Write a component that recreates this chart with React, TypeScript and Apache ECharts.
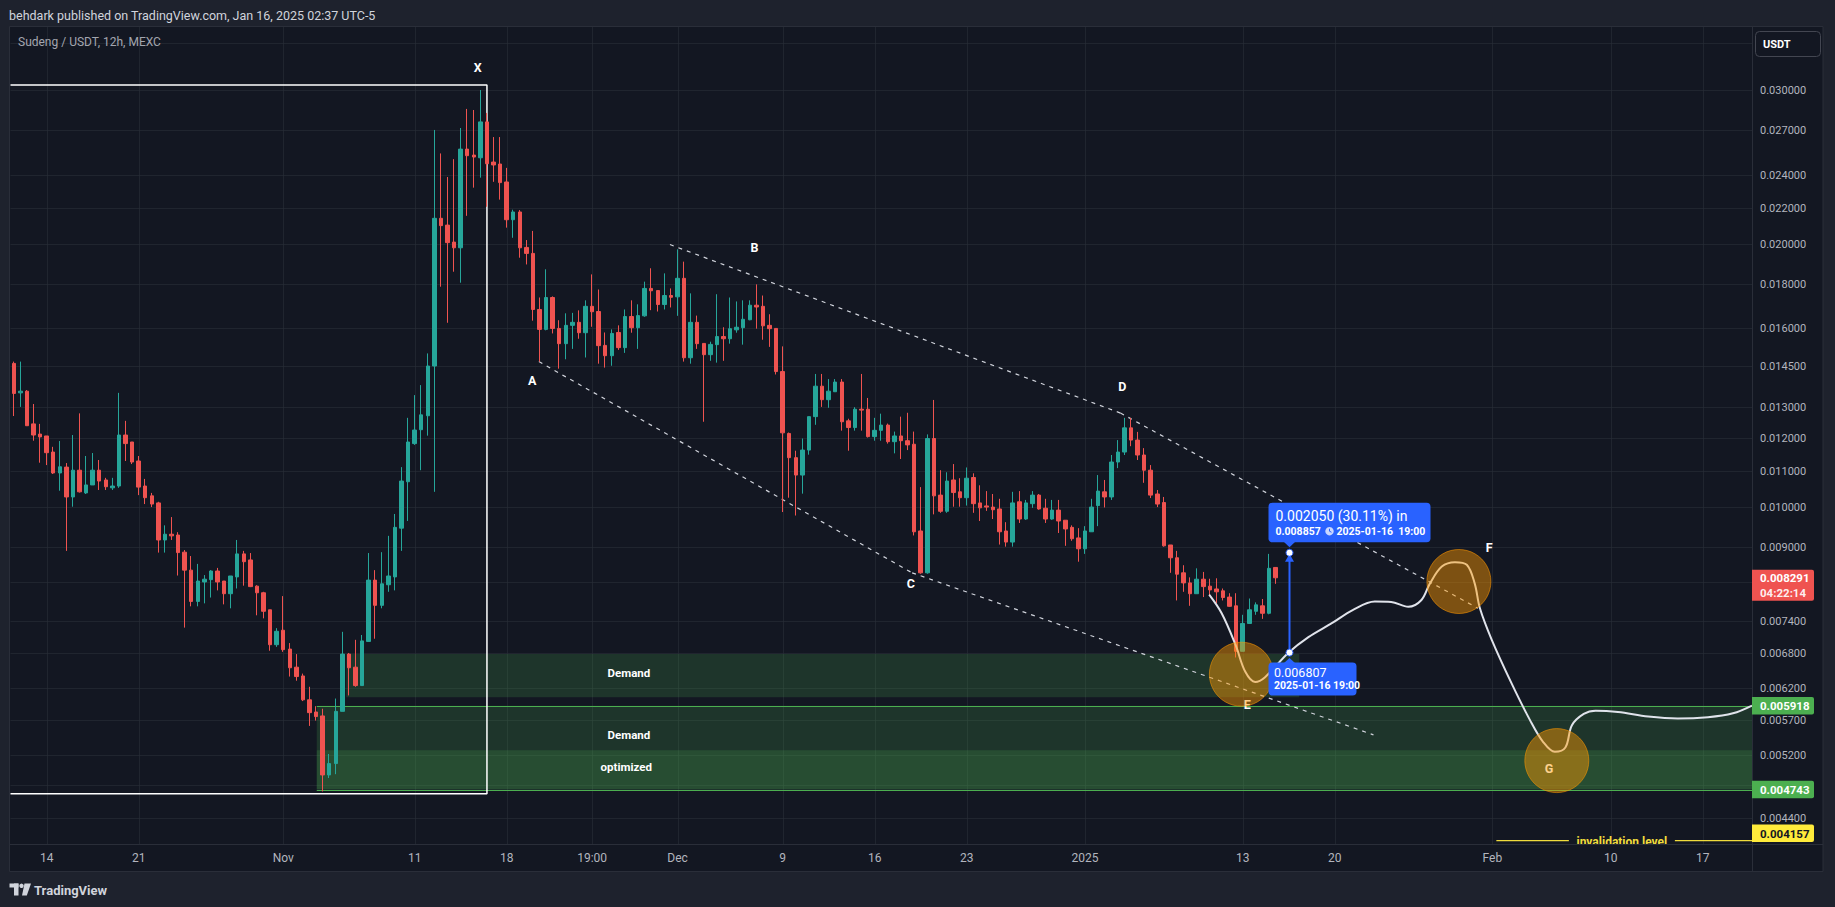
import React, { useEffect, useRef } from "react";
import * as echarts from "echarts";

const FONT = "Roboto, 'Liberation Sans', sans-serif";
const GRIDC = "rgba(42,46,57,0.6)";
const UP = "#26a69a";
const DOWN = "#ef5350";
const BLUE = "#2962ff";

// ---------- axes ----------
const slotCount = 265; // 12h slots on the time axis (candles + future space)
const xLabelIndex = [5, 19, 41, 61, 75, 88, 101, 117, 131, 145, 163, 187, 201, 225, 243, 257];
const xLabelText = ["14", "21", "Nov", "11", "18", "19:00", "Dec", "9", "16", "23", "2025", "13", "20", "Feb", "10", "17"];
const yTicks = [0.034, 0.03, 0.027, 0.024, 0.022, 0.02, 0.018, 0.016, 0.0145, 0.013, 0.012, 0.011, 0.01, 0.009, 0.0082, 0.0074, 0.0068, 0.0062, 0.0057, 0.0052, 0.0048, 0.0044];
// tick labels covered by the USDT button / price tags in the reference
const yTicksHiddenLabel = [0.034, 0.0082, 0.0048];
const yMin = 0.0041094;
const yMax = 0.035421;

// ---------- candles: [open, close, low, high] ----------
const candles = [
  [0.01459, 0.01348, 0.0127, 0.01466], [0.0135, 0.01356, 0.01301, 0.01466], [0.01356, 0.01238, 0.01237, 0.0136], [0.01244, 0.01208, 0.0119, 0.01311],
  [0.01211, 0.01202, 0.01123, 0.01244], [0.01205, 0.01153, 0.01116, 0.01205], [0.01155, 0.01093, 0.0109, 0.01171], [0.01093, 0.01111, 0.01043, 0.01189],
  [0.0111, 0.01026, 0.0089, 0.01122], [0.01026, 0.01101, 0.01, 0.01208], [0.01101, 0.0104, 0.01038, 0.01279], [0.01037, 0.01059, 0.01034, 0.01143],
  [0.01059, 0.01101, 0.01059, 0.01152], [0.01101, 0.0107, 0.01045, 0.01131], [0.01073, 0.01054, 0.01045, 0.01079], [0.01051, 0.01056, 0.01045, 0.01079],
  [0.01056, 0.01208, 0.01051, 0.0135], [0.01208, 0.01181, 0.01128, 0.01254], [0.01186, 0.01125, 0.01119, 0.01186], [0.01128, 0.01053, 0.01031, 0.01143],
  [0.01056, 0.01024, 0.01007, 0.01076], [0.01029, 0.01007, 0.00999, 0.01037], [0.0101, 0.00916, 0.00886, 0.01013], [0.00916, 0.0093, 0.00886, 0.00952],
  [0.0093, 0.00926, 0.00916, 0.00973], [0.00928, 0.00886, 0.00834, 0.00935], [0.00887, 0.00846, 0.00727, 0.00892], [0.00846, 0.00779, 0.00769, 0.00878],
  [0.00779, 0.00822, 0.00769, 0.0086], [0.0082, 0.00826, 0.00775, 0.00835], [0.00825, 0.00844, 0.00787, 0.00846], [0.00844, 0.0082, 0.00802, 0.00851],
  [0.00822, 0.00795, 0.00773, 0.00822], [0.00795, 0.00833, 0.00765, 0.00833], [0.00831, 0.00883, 0.00806, 0.00916], [0.00883, 0.00865, 0.00812, 0.0089],
  [0.00869, 0.0081, 0.00809, 0.00885], [0.00811, 0.00797, 0.00751, 0.00813], [0.00797, 0.00759, 0.00745, 0.00799], [0.00762, 0.00695, 0.00684, 0.00762],
  [0.00695, 0.0072, 0.00691, 0.00726], [0.00722, 0.00686, 0.00682, 0.0079], [0.00687, 0.00654, 0.00639, 0.00698], [0.00655, 0.00639, 0.00632, 0.00678],
  [0.0064, 0.00601, 0.00599, 0.00644], [0.00601, 0.00581, 0.00561, 0.00622], [0.00582, 0.00575, 0.00569, 0.00591], [0.00576, 0.00493, 0.00472, 0.00587],
  [0.00493, 0.00508, 0.00489, 0.00521], [0.00508, 0.00583, 0.00494, 0.00603], [0.00583, 0.00678, 0.00583, 0.00719], [0.00678, 0.00654, 0.00608, 0.0068],
  [0.00655, 0.00624, 0.00622, 0.00704], [0.00624, 0.00702, 0.00624, 0.00713], [0.00701, 0.00824, 0.00701, 0.00885], [0.00824, 0.00771, 0.00706, 0.00846],
  [0.00771, 0.00816, 0.00765, 0.00887], [0.00814, 0.00833, 0.00799, 0.00926], [0.00831, 0.00947, 0.00802, 0.00981], [0.00945, 0.0107, 0.0089, 0.0111],
  [0.01068, 0.01186, 0.00963, 0.01264], [0.01181, 0.01224, 0.01177, 0.01342], [0.01225, 0.01274, 0.01101, 0.01378], [0.01271, 0.01449, 0.01206, 0.01498],
  [0.01449, 0.02139, 0.0104, 0.027], [0.02139, 0.02098, 0.01786, 0.02538], [0.02101, 0.02006, 0.01624, 0.02385], [0.02009, 0.01979, 0.01858, 0.025],
  [0.01979, 0.02567, 0.01805, 0.02714], [0.02567, 0.02523, 0.02153, 0.02854], [0.02527, 0.02514, 0.02319, 0.02846], [0.02509, 0.02758, 0.02381, 0.03],
  [0.02758, 0.0247, 0.02205, 0.02824], [0.02481, 0.02462, 0.02355, 0.0265], [0.02468, 0.0235, 0.02247, 0.0265], [0.02354, 0.02131, 0.02087, 0.02443],
  [0.02131, 0.02175, 0.02032, 0.02188], [0.02175, 0.01979, 0.01928, 0.02186], [0.01981, 0.0195, 0.01894, 0.0202], [0.0195, 0.01682, 0.01633, 0.02069],
  [0.01682, 0.01596, 0.01466, 0.01736], [0.01596, 0.01736, 0.01592, 0.0187], [0.01736, 0.016, 0.01579, 0.01741], [0.016, 0.01537, 0.01439, 0.01635],
  [0.01537, 0.01613, 0.01475, 0.01665], [0.01613, 0.01626, 0.01516, 0.01667], [0.01626, 0.01582, 0.01557, 0.01678], [0.01582, 0.01696, 0.01482, 0.01723],
  [0.01696, 0.01672, 0.01607, 0.01845], [0.01673, 0.01529, 0.01458, 0.01773], [0.0153, 0.01489, 0.01443, 0.01583], [0.01489, 0.01579, 0.0145, 0.01596],
  [0.01583, 0.01521, 0.01512, 0.01613], [0.01521, 0.01651, 0.015, 0.01682], [0.01651, 0.01603, 0.01582, 0.01723], [0.01603, 0.01655, 0.01516, 0.01705],
  [0.01654, 0.01778, 0.0165, 0.0181], [0.01778, 0.01767, 0.01679, 0.01875], [0.01768, 0.01704, 0.01673, 0.01768], [0.01704, 0.01745, 0.01682, 0.0185],
  [0.01745, 0.01737, 0.01691, 0.01778], [0.01739, 0.01826, 0.01654, 0.01971], [0.01826, 0.01481, 0.01466, 0.01908], [0.01481, 0.01626, 0.01458, 0.01755],
  [0.01626, 0.01537, 0.01516, 0.01655], [0.01538, 0.01493, 0.01251, 0.01538], [0.01493, 0.01534, 0.01469, 0.01545], [0.01533, 0.01566, 0.01462, 0.01751],
  [0.01566, 0.01557, 0.01469, 0.01605], [0.01557, 0.01599, 0.01537, 0.01736], [0.01594, 0.01605, 0.01582, 0.01718], [0.01603, 0.01639, 0.01533, 0.01723],
  [0.01637, 0.01701, 0.01635, 0.01723], [0.01701, 0.01693, 0.01599, 0.01797], [0.01696, 0.01611, 0.01553, 0.01745], [0.01613, 0.01599, 0.01524, 0.01661],
  [0.016, 0.01428, 0.01417, 0.016], [0.01428, 0.01215, 0.00986, 0.01526], [0.01213, 0.01138, 0.01024, 0.01216], [0.01138, 0.01087, 0.00977, 0.01159],
  [0.01087, 0.01161, 0.01035, 0.01197], [0.01161, 0.01268, 0.01147, 0.01268], [0.01268, 0.01374, 0.01241, 0.01419], [0.01374, 0.01326, 0.01301, 0.01419],
  [0.01326, 0.01356, 0.01298, 0.014], [0.01354, 0.01389, 0.01353, 0.014], [0.01389, 0.01251, 0.01222, 0.014], [0.01254, 0.01232, 0.01159, 0.01261],
  [0.01232, 0.01293, 0.01222, 0.013], [0.01293, 0.0129, 0.01222, 0.01419], [0.01293, 0.01203, 0.012, 0.01332], [0.01203, 0.01223, 0.0119, 0.01264],
  [0.01223, 0.0124, 0.0119, 0.01278], [0.0124, 0.01187, 0.01181, 0.01245], [0.01187, 0.01205, 0.01151, 0.01219], [0.01205, 0.0119, 0.01134, 0.01268],
  [0.0119, 0.01177, 0.01161, 0.01281], [0.01179, 0.00936, 0.00927, 0.01219], [0.00938, 0.0084, 0.00838, 0.01053], [0.0084, 0.01197, 0.00838, 0.0121],
  [0.01197, 0.01029, 0.0098, 0.01325], [0.01031, 0.00988, 0.00984, 0.01101], [0.00988, 0.0107, 0.00984, 0.01095], [0.01073, 0.01038, 0.01, 0.01119],
  [0.0104, 0.01024, 0.01, 0.01078], [0.01024, 0.01078, 0.01003, 0.01109], [0.0108, 0.01008, 0.00984, 0.01092], [0.0101, 0.00997, 0.00963, 0.01058],
  [0.01002, 0.00999, 0.00989, 0.01042], [0.00999, 0.00992, 0.00968, 0.01034], [0.00994, 0.00936, 0.00905, 0.01021], [0.00938, 0.00911, 0.009, 0.0096],
  [0.00911, 0.0101, 0.009, 0.0104], [0.01013, 0.00968, 0.00958, 0.01042], [0.00968, 0.0101, 0.00966, 0.01018], [0.01008, 0.01031, 0.00997, 0.01042],
  [0.01031, 0.00994, 0.00992, 0.01034], [0.00996, 0.00968, 0.00958, 0.01021], [0.00968, 0.00991, 0.00966, 0.01018], [0.00991, 0.00963, 0.00933, 0.01018],
  [0.00965, 0.00943, 0.00902, 0.00965], [0.00947, 0.00919, 0.00914, 0.00952], [0.00921, 0.00895, 0.00865, 0.00945], [0.00895, 0.00938, 0.00883, 0.0095],
  [0.00936, 0.00999, 0.00936, 0.01021], [0.01003, 0.01042, 0.0095, 0.01087], [0.0104, 0.01026, 0.00998, 0.01073], [0.01026, 0.01125, 0.01018, 0.01146],
  [0.01125, 0.01155, 0.01107, 0.01192], [0.01155, 0.01231, 0.01146, 0.01264], [0.01231, 0.01192, 0.01173, 0.01264], [0.01192, 0.01146, 0.01131, 0.01218],
  [0.01146, 0.01101, 0.01065, 0.01167], [0.01101, 0.01031, 0.01023, 0.01116], [0.01034, 0.01007, 0.00999, 0.01045], [0.01011, 0.00902, 0.009, 0.01026],
  [0.00904, 0.00874, 0.0084, 0.00904], [0.00874, 0.00837, 0.00781, 0.0089], [0.0084, 0.00818, 0.00799, 0.00857], [0.00818, 0.00795, 0.0077, 0.0083],
  [0.00795, 0.00826, 0.00795, 0.0085], [0.00826, 0.0081, 0.00788, 0.00842], [0.00811, 0.00803, 0.00791, 0.00827], [0.00805, 0.00799, 0.00775, 0.00828],
  [0.00801, 0.00787, 0.00781, 0.00806], [0.00788, 0.00769, 0.00768, 0.00796], [0.0077, 0.00683, 0.00672, 0.00796], [0.00683, 0.00735, 0.00683, 0.00752],
  [0.00735, 0.00762, 0.00735, 0.00785], [0.00759, 0.00772, 0.00752, 0.00777], [0.0077, 0.00755, 0.00744, 0.00784], [0.00755, 0.0085, 0.00753, 0.00883],
  [0.00852, 0.008291, 0.00816, 0.00852],
];

// ---------- drawings ----------
const xRectX = [-0.5, 72, 72, -0.5];
const xRectY = [0.0304, 0.0304, 0.00469, 0.00469];

const dashX1 = [99.85, 168.4, 79.9, 136.7];
const dashY1 = [0.01996, 0.0128, 0.01466, 0.0084];
const dashX2 = [168.4, 222.8, 136.7, 206.9];
const dashY2 = [0.0128, 0.00765, 0.0084, 0.00548];

const curveX = [181.9, 183.8, 185.9, 187.4, 188.9, 190.4, 194, 197, 200.5, 203.8, 207.1, 209.6, 212.2, 214.2, 215.5, 217.3, 219.3, 221.1, 222.3, 223.1, 224.9, 227.9, 230.7, 232.7, 234.5, 236.1, 237.1, 238.9, 240.7, 244.1, 248.7, 253.2, 257.8, 261.6, 264.5];
const curveY = [0.00793, 0.00755, 0.00695, 0.00647, 0.0063, 0.00638, 0.006807, 0.00709, 0.00735, 0.00762, 0.00779, 0.00778, 0.00768, 0.00782, 0.00817, 0.00854, 0.00864, 0.00858, 0.00817, 0.00765, 0.00704, 0.00628, 0.0057, 0.00538, 0.00524, 0.0053, 0.00562, 0.00579, 0.00584, 0.00582, 0.00575, 0.00572, 0.00574, 0.0058, 0.00592];

const zoneX0 = [50.6, 46.1, 46.1];
const zoneX1 = [195.6, 264.5, 264.5];
const zoneTop = [0.00678, 0.005918, 0.00526];
const zoneBottom = [0.00605, 0.004743, 0.004743];
const zoneLabelText = ["Demand", "Demand", "optimized"];
const zoneLabelX = [93.6, 93.6, 93.2];
const zoneLabelY = [0.00645, 0.00548, 0.00503];
const levelLineStart = 46.1;
const levelLines = [0.005918, 0.004743];

const waveText = ["X", "A", "B", "C", "D", "E", "F", "G"];
const waveX = [70.6, 78.9, 112.7, 136.5, 168.7, 187.7, 224.5, 233.6];
const waveY = [0.03186, 0.01396, 0.01978, 0.00816, 0.01374, 0.00594, 0.00897, 0.00501];

const circleX = [186.8, 219.9, 234.8];
const circleY = [0.00643, 0.00821, 0.00512];

const measureX = 194;
const measureFrom = 0.006807;
const measureTo = 0.008857;
const measureChange = "0.002050 (30.11%) in";
const measureDateTop = "2025-01-16  19:00";
const measureDateBottom = "2025-01-16 19:00";

const invalidationLevel = 0.004157;
const invalidationStart = 225.6;
const invalidationTextAt = 244.7;
const invalidationText = "invalidation level";

const tagValues = [0.008291, 0.005918, 0.004743, 0.004157];
const tagSub = ["04:22:14", "", "", ""];
const tagColors = ["#ef5350", "#4caf50", "#4caf50", "#ffeb3b"];
const tagTextColors = ["#ffffff", "#ffffff", "#ffffff", "#131722"];

const categories = Array.from({ length: slotCount }, (_, i) => String(i));

function txt(text: string, x: number, y: number, size: number, fill: string, weight = "normal", align = "left") {
  return {
    type: "text",
    style: { text, x, y, fill, fontSize: size, fontFamily: FONT, fontWeight: weight, align, verticalAlign: "middle" },
  };
}

function buildOption() {
  const ov = { xAxisIndex: 1, yAxisIndex: 0 };
  const series: any[] = [];

  // horizontal grid + price labels
  series.push({
    type: "custom", ...ov, z: 1, silent: true,
    data: yTicks.map((v) => [0, v]),
    renderItem: (params: any, api: any) => {
      const cs = params.coordSys;
      const v = yTicks[params.dataIndex];
      const y = Math.round(api.coord([0, v])[1]) + 0.5;
      const children: any[] = [
        { type: "line", shape: { x1: cs.x, y1: y, x2: cs.x + cs.width, y2: y }, style: { stroke: GRIDC, lineWidth: 1 } },
      ];
      if (!yTicksHiddenLabel.includes(v)) children.push(txt(v.toFixed(6), cs.x + cs.width + 8, y, 11, "#b2b5be"));
      return { type: "group", children };
    },
  });
  // vertical grid
  series.push({
    type: "custom", ...ov, z: 1, silent: true,
    data: xLabelIndex.map((i) => [i, 0.01]),
    renderItem: (params: any, api: any) => {
      const cs = params.coordSys;
      const x = Math.round(api.coord([api.value(0), 0.01])[0]) + 0.5;
      return { type: "line", shape: { x1: x, y1: cs.y, x2: x, y2: cs.y + cs.height }, style: { stroke: GRIDC, lineWidth: 1 } };
    },
  });
  // zones
  series.push({
    type: "custom", ...ov, z: 2, silent: true, clip: true,
    data: zoneX0.map((x, i) => [x, zoneTop[i]]),
    renderItem: (params: any, api: any) => {
      const i = params.dataIndex;
      const p0 = api.coord([zoneX0[i], zoneTop[i]]);
      const p1 = api.coord([zoneX1[i], zoneBottom[i]]);
      return { type: "rect", shape: { x: p0[0], y: p0[1], width: p1[0] - p0[0], height: p1[1] - p0[1] }, style: { fill: "rgba(76,175,80,0.2)" } };
    },
  });
  // zone border lines
  series.push({
    type: "custom", ...ov, z: 3, silent: true,
    data: levelLines.map((v) => [levelLineStart, v]),
    renderItem: (params: any, api: any) => {
      const cs = params.coordSys;
      const p = api.coord([levelLineStart, api.value(1)]);
      const y = Math.round(p[1]) + 0.5;
      return { type: "line", shape: { x1: p[0], y1: y, x2: cs.x + cs.width, y2: y }, style: { stroke: "#4caf50", lineWidth: 1.2 } };
    },
  });
  // zone texts
  series.push({
    type: "custom", ...ov, z: 4, silent: true,
    data: zoneLabelX.map((x, i) => [x, zoneLabelY[i]]),
    renderItem: (params: any, api: any) => {
      const i = params.dataIndex;
      const p = api.coord([zoneLabelX[i], zoneLabelY[i]]);
      return txt(zoneLabelText[i], p[0], p[1], 11.5, "#ffffff", "bold", "center");
    },
  });
  // X box
  series.push({
    type: "line", ...ov, z: 3, silent: true, symbol: "none",
    data: xRectX.map((x, i) => [x, xRectY[i]]),
    lineStyle: { color: "#ffffff", width: 1.5 },
  });
  // dashed channel lines
  dashX1.forEach((x, i) => {
    series.push({
      type: "line", ...ov, z: 3, silent: true, symbol: "none",
      data: [[x, dashY1[i]], [dashX2[i], dashY2[i]]],
      lineStyle: { color: "#d1d4dc", width: 1.2, type: [4, 5] },
    });
  });
  // candles
  series.push({
    type: "candlestick", xAxisIndex: 0, yAxisIndex: 0, z: 5, barWidth: 4,
    data: candles,
    itemStyle: { color: UP, color0: DOWN, borderColor: UP, borderColor0: DOWN, borderWidth: 1 },
  });
  // projected path
  series.push({
    type: "line", ...ov, z: 6, silent: true, symbol: "none", smooth: 0.35,
    data: curveX.map((x, i) => [x, curveY[i]]),
    lineStyle: { color: "#e0e3eb", width: 2 },
  });
  // wave labels
  series.push({
    type: "custom", ...ov, z: 7, silent: true,
    data: waveX.map((x, i) => [x, waveY[i]]),
    renderItem: (params: any, api: any) => {
      const i = params.dataIndex;
      const p = api.coord([waveX[i], waveY[i]]);
      return txt(waveText[i], p[0], p[1], 12.5, "#ffffff", "bold", "center");
    },
  });
  // circles
  series.push({
    type: "custom", ...ov, z: 8, silent: true,
    data: circleX.map((x, i) => [x, circleY[i]]),
    renderItem: (params: any, api: any) => {
      const i = params.dataIndex;
      const p = api.coord([circleX[i], circleY[i]]);
      return { type: "circle", shape: { cx: p[0], cy: p[1], r: 32 }, style: { fill: "rgba(255,152,0,0.45)", stroke: "rgba(255,152,0,0.55)", lineWidth: 1 } };
    },
  });
  // invalidation level
  series.push({
    type: "custom", ...ov, z: 8, silent: true, clip: true,
    data: [[invalidationStart, invalidationLevel]],
    renderItem: (params: any, api: any) => {
      const cs = params.coordSys;
      const p = api.coord([invalidationStart, invalidationLevel]);
      const c = api.coord([invalidationTextAt, invalidationLevel])[0];
      const y = p[1] + 1;
      const col = "#f0dc3c";
      return {
        type: "group",
        children: [
          { type: "line", shape: { x1: p[0], y1: y, x2: c - 53, y2: y }, style: { stroke: col, lineWidth: 1.2 } },
          { type: "line", shape: { x1: c + 53, y1: y, x2: cs.x + cs.width, y2: y }, style: { stroke: col, lineWidth: 1.2 } },
          txt(invalidationText, c, y + 1.5, 12, col, "bold", "center"),
        ],
      };
    },
  });
  // measurement tool
  series.push({
    type: "custom", ...ov, z: 9, silent: true,
    data: [[measureX, measureTo]],
    renderItem: (params: any, api: any) => {
      const t = api.coord([measureX, measureTo]);
      const b = api.coord([measureX, measureFrom]);
      const tx = Math.round(t[0]) + 0.5;
      const ty = t[1];
      const by = b[1];
      return {
        type: "group",
        children: [
          { type: "line", shape: { x1: tx, y1: ty + 6, x2: tx, y2: by }, style: { stroke: BLUE, lineWidth: 2 } },
          { type: "polygon", shape: { points: [[tx, ty + 1], [tx - 4.5, ty + 9], [tx + 4.5, ty + 9]] }, style: { fill: BLUE } },
          { type: "circle", shape: { cx: tx, cy: ty, r: 3.5 }, style: { fill: "#ffffff", stroke: BLUE, lineWidth: 1 } },
          { type: "circle", shape: { cx: tx, cy: by, r: 3.5 }, style: { fill: "#ffffff", stroke: BLUE, lineWidth: 1 } },
          { type: "rect", shape: { x: tx - 21, y: ty - 50, width: 162, height: 39.5, r: 4 }, style: { fill: BLUE } },
          { type: "polygon", shape: { points: [[tx - 5.5, ty - 10.8], [tx + 5.5, ty - 10.8], [tx, ty - 5.5]] }, style: { fill: BLUE } },
          txt(measureChange, tx - 14, ty - 37, 14, "#ffffff"),
          txt(measureTo.toFixed(6), tx - 14, ty - 21.5, 10.5, "#ffffff", "bold"),
          { type: "circle", shape: { cx: tx + 40, cy: ty - 21.5, r: 4.2 }, style: { fill: "rgba(255,255,255,0.75)" } },
          { type: "polyline", shape: { points: [[tx + 40, ty - 24], [tx + 40, ty - 21.5], [tx + 42, ty - 20.5]] }, style: { stroke: BLUE, lineWidth: 1, fill: "none" } },
          txt(measureDateTop, tx + 47, ty - 21.5, 10.5, "#ffffff", "bold"),
          { type: "rect", shape: { x: tx - 21, y: by + 10, width: 88, height: 33, r: 4 }, style: { fill: BLUE } },
          { type: "polygon", shape: { points: [[tx - 5.5, by + 10.5], [tx + 5.5, by + 10.5], [tx, by + 5.5]] }, style: { fill: BLUE } },
          txt(measureFrom.toFixed(6), tx - 15.5, by + 20, 12.5, "#ffffff"),
          txt(measureDateBottom, tx - 15.5, by + 33, 10.5, "#ffffff", "bold"),
        ],
      };
    },
  });
  // price tags on the price scale
  series.push({
    type: "custom", ...ov, z: 12, silent: true,
    data: tagValues.map((v) => [0, v]),
    renderItem: (params: any, api: any) => {
      const cs = params.coordSys;
      const i = params.dataIndex;
      let y = api.coord([0, tagValues[i]])[1];
      const two = tagSub[i] !== "";
      const h = two ? 31 : 17.5;
      let top = y - (two ? 8 : 8.75);
      const bottomLimit = cs.y + cs.height - 2;
      if (top + h > bottomLimit) {
        top = bottomLimit - h;
        y = top + 8.75;
      }
      const x0 = cs.x + cs.width;
      const children: any[] = [
        { type: "rect", shape: { x: x0, y: top, width: 62, height: h, r: [0, 2, 2, 0] }, style: { fill: tagColors[i] } },
        txt(tagValues[i].toFixed(6), x0 + 8, y + 0.5, 11.5, tagTextColors[i], "bold"),
      ];
      if (two) children.push(txt(tagSub[i], x0 + 8, y + 15, 11.5, "rgba(255,255,255,0.92)", "bold"));
      return { type: "group", children };
    },
  });

  const graphic: any[] = [
    { type: "rect", z: 0, silent: true, shape: { x: 9.5, y: 26.5, width: 1813.5, height: 845 }, style: { fill: "#131722", stroke: "#2a2e39", lineWidth: 1 } },
    { type: "text", z: 1, x: 9, y: 15, style: { text: "behdark published on TradingView.com, Jan 16, 2025 02:37 UTC-5", fill: "#d1d4dc", fontSize: 12.5, fontFamily: FONT, verticalAlign: "middle" } },
    { type: "text", z: 20, x: 18, y: 42, style: { text: "Sudeng / USDT, 12h, MEXC", fill: "#a3a6af", fontSize: 12, fontFamily: FONT, verticalAlign: "middle" } },
    { type: "line", z: 11, silent: true, shape: { x1: 1752.5, y1: 26.5, x2: 1752.5, y2: 871 }, style: { stroke: "#2a2e39", lineWidth: 1 } },
    { type: "line", z: 11, silent: true, shape: { x1: 9.5, y1: 844.5, x2: 1823, y2: 844.5 }, style: { stroke: "#2a2e39", lineWidth: 1 } },
    { type: "rect", z: 20, shape: { x: 1755.5, y: 31.5, width: 65, height: 25, r: 4 }, style: { fill: "#131722", stroke: "#434651", lineWidth: 1 } },
    { type: "text", z: 21, x: 1763, y: 44, style: { text: "USDT", fill: "#ffffff", fontSize: 11, fontWeight: "bold", fontFamily: FONT, verticalAlign: "middle" } },
    // TradingView logo
    { type: "rect", z: 1, shape: { x: 9.5, y: 883.5, width: 9, height: 4 }, style: { fill: "#d1d4dc" } },
    { type: "rect", z: 1, shape: { x: 14, y: 883.5, width: 4.5, height: 12 }, style: { fill: "#d1d4dc" } },
    { type: "circle", z: 1, shape: { cx: 21.5, cy: 885.8, r: 2.2 }, style: { fill: "#d1d4dc" } },
    { type: "polygon", z: 1, shape: { points: [[24.5, 883.5], [31, 883.5], [26.8, 895.5], [22, 895.5]] }, style: { fill: "#d1d4dc" } },
    { type: "text", z: 1, x: 34, y: 890, style: { text: "TradingView", fill: "#d1d4dc", fontSize: 13, fontWeight: "bold", fontFamily: FONT, verticalAlign: "middle" } },
  ];

  return {
    animation: false,
    backgroundColor: "transparent",
    grid: { left: 10.5, top: 27, width: 1741.5, height: 817, show: false },
    xAxis: [
      {
        type: "category", data: categories, boundaryGap: true, z: 10,
        axisLine: { show: false }, axisTick: { show: false }, splitLine: { show: false },
        axisLabel: {
          interval: (i: number) => xLabelIndex.includes(i),
          formatter: (_v: string, i: number) => {
            const k = xLabelIndex.indexOf(i);
            return k >= 0 ? xLabelText[k] : "";
          },
          color: "#b2b5be", fontSize: 12, fontFamily: FONT, margin: 8,
        },
      },
      { type: "value", min: -0.5, max: slotCount - 0.5, show: false },
    ],
    yAxis: [{ type: "log", logBase: 10, min: yMin, max: yMax, show: false }],
    graphic,
    series,
  };
}

export default function App() {
  const ref = useRef<HTMLDivElement>(null);
  useEffect(() => {
    const chart = echarts.init(ref.current!, undefined, { renderer: "svg" });
    chart.setOption(buildOption() as any);
    return () => chart.dispose();
  }, []);
  return (
    <div
      ref={ref}
      style={{ position: "fixed", left: 0, top: 0, width: 1835, height: 907, background: "#1e222d" }}
    />
  );
}
